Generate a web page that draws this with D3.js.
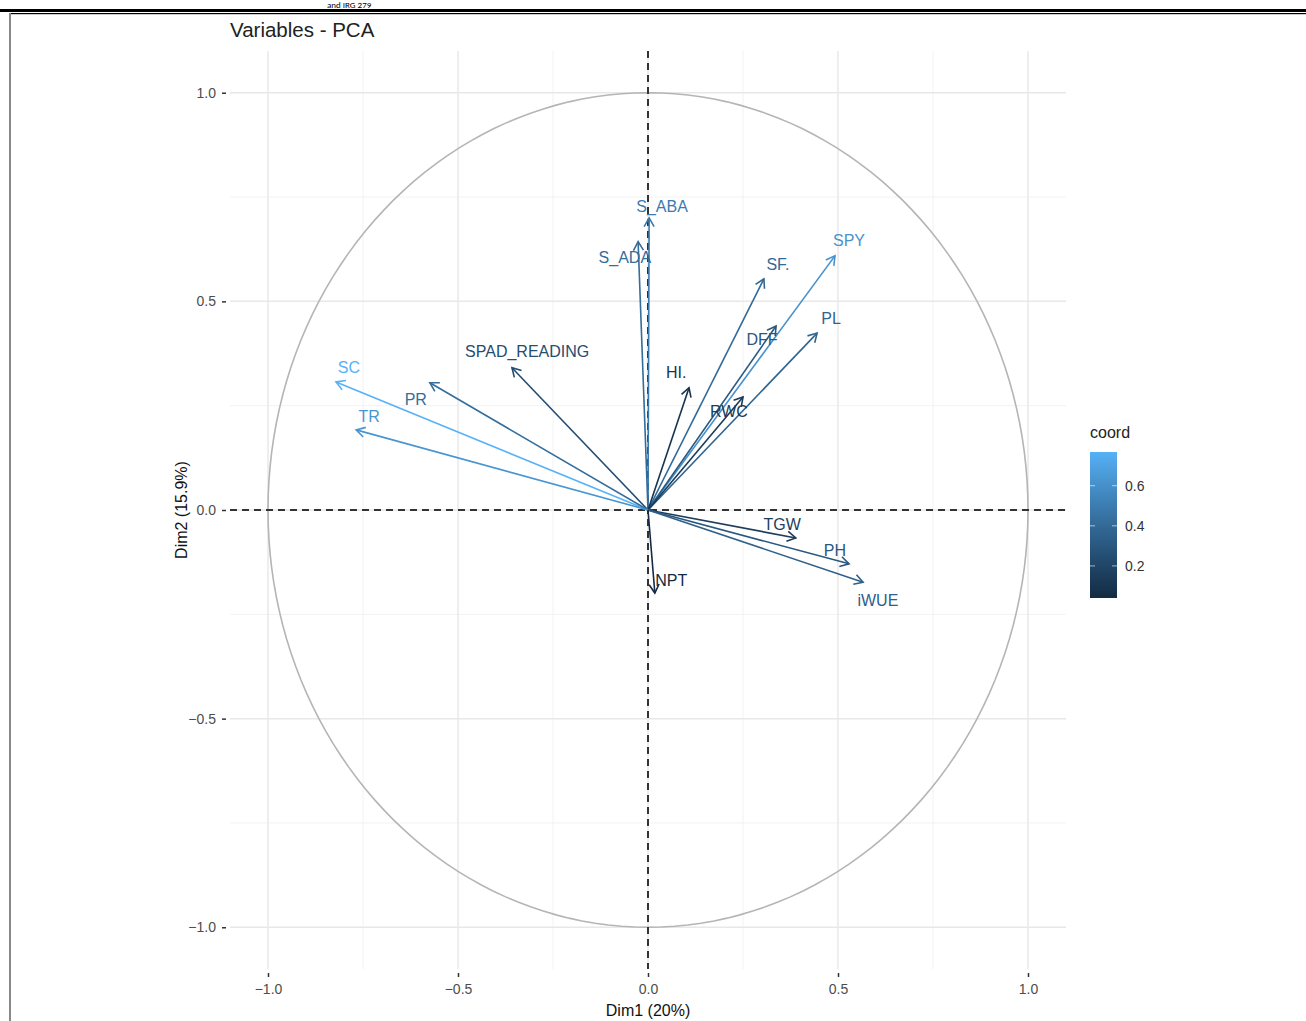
<!DOCTYPE html>
<html>
<head>
<meta charset="utf-8">
<script src="https://cdn.jsdelivr.net/npm/d3@7"></script>
<style>
html,body{margin:0;padding:0;background:#fff;}
svg text{font-family:"Liberation Sans",Arial,Helvetica,sans-serif;}
</style>
</head>
<body>
<svg id="chart" width="1306" height="1021"></svg>
<script>
// ---- data ----
const variables = ["S_ABA","S_ADA","SF.","SPY","PL","DFF","HI.","RWC","SPAD_READING","SC","PR","TR","TGW","PH","iWUE","NPT"];
const dim1 = [0.003,-0.026,0.305,0.492,0.445,0.337,0.108,0.250,-0.358,-0.821,-0.574,-0.768,0.389,0.529,0.566,0.018];
const dim2 = [0.700,0.643,0.554,0.609,0.424,0.441,0.293,0.271,0.341,0.307,0.305,0.192,-0.067,-0.129,-0.173,-0.199];
const labelDim1 = [0.037,-0.061,0.342,0.529,0.482,0.300,0.074,0.213,-0.318,-0.787,-0.611,-0.734,0.353,0.492,0.605,0.061];
const labelDim2 = [0.727,0.604,0.588,0.645,0.458,0.408,0.329,0.237,0.379,0.341,0.266,0.225,-0.034,-0.096,-0.216,-0.168];
const axisTicks = [-1.0,-0.5,0.0,0.5,1.0];
const minorTicks = [-0.75,-0.25,0.25,0.75];
const legendTicks = [0.2,0.4,0.6];
const titleText = "Variables - PCA";
const xTitle = "Dim1 (20%)";
const yTitle = "Dim2 (15.9%)";
const legendTitle = "coord";
const topCaption = "and IRG 279";

const svg = d3.select("#chart");

// page frame
svg.append("rect").attr("x",0).attr("y",9).attr("width",1306).attr("height",3).attr("fill","#000");
svg.append("rect").attr("x",9).attr("y",13).attr("width",1297).attr("height",1.2).attr("fill","#000");
svg.append("rect").attr("x",9).attr("y",13).attr("width",2).attr("height",1008).attr("fill","#888");
svg.append("text").attr("x",327).attr("y",7.5).attr("font-size",9).attr("fill","#000")
  .style("font-family","Carlito,'Liberation Sans',sans-serif").text(topCaption);

// scales
const x = d3.scaleLinear().domain([-1.1,1.1]).range([230,1066]);
const y = d3.scaleLinear().domain([-1.1,1.1]).range([969,51]);

const coords = dim1.map((d,i)=>d*d+dim2[i]*dim2[i]);
const cExt = d3.extent(coords);
const color = d3.scaleLinear().domain(cExt).range(["#132B43","#56B1F7"]).interpolate(d3.interpolateLab);

const g = svg.append("g");

// grid
minorTicks.forEach(t=>{
  g.append("line").attr("x1",x(t)).attr("x2",x(t)).attr("y1",y(1.1)).attr("y2",y(-1.1)).attr("stroke","#f2f2f2").attr("stroke-width",1);
  g.append("line").attr("y1",y(t)).attr("y2",y(t)).attr("x1",x(-1.1)).attr("x2",x(1.1)).attr("stroke","#f2f2f2").attr("stroke-width",1);
});
axisTicks.forEach(t=>{
  g.append("line").attr("x1",x(t)).attr("x2",x(t)).attr("y1",y(1.1)).attr("y2",y(-1.1)).attr("stroke","#e8e8e8").attr("stroke-width",1.5);
  g.append("line").attr("y1",y(t)).attr("y2",y(t)).attr("x1",x(-1.1)).attr("x2",x(1.1)).attr("stroke","#e8e8e8").attr("stroke-width",1.5);
});

// circle
const circ = d3.range(0,361,2).map(a=>[Math.cos(a*Math.PI/180),Math.sin(a*Math.PI/180)]);
g.append("path").attr("d",d3.line().x(d=>x(d[0])).y(d=>y(d[1]))(circ))
  .attr("fill","none").attr("stroke","#b5b5b5").attr("stroke-width",1.6);

// dashed axes
g.append("line").attr("x1",x(-1.1)).attr("x2",x(1.1)).attr("y1",y(0)).attr("y2",y(0))
  .attr("stroke","#333").attr("stroke-width",2).attr("stroke-dasharray","7,5");
g.append("line").attr("x1",x(0)).attr("x2",x(0)).attr("y1",y(1.1)).attr("y2",y(-1.1))
  .attr("stroke","#333").attr("stroke-width",2).attr("stroke-dasharray","7,5");

// arrows
variables.forEach((v,i)=>{
  const x0=x(0), y0=y(0), x1=x(dim1[i]), y1=y(dim2[i]);
  const ang=Math.atan2(y1-y0,x1-x0);
  const L=10, a=Math.PI/6;
  const c=color(coords[i]);
  g.append("line").attr("x1",x0).attr("y1",y0).attr("x2",x1).attr("y2",y1)
    .attr("stroke",c).attr("stroke-width",1.6);
  const p1=[x1-L*Math.cos(ang-a), y1-L*Math.sin(ang-a)];
  const p2=[x1-L*Math.cos(ang+a), y1-L*Math.sin(ang+a)];
  g.append("path").attr("d",`M${p1[0]},${p1[1]}L${x1},${y1}L${p2[0]},${p2[1]}`)
    .attr("fill","none").attr("stroke",c).attr("stroke-width",1.6);
});
variables.forEach((v,i)=>{
  g.append("text").attr("x",x(labelDim1[i])).attr("y",y(labelDim2[i]))
    .attr("text-anchor","middle").attr("dominant-baseline","central")
    .attr("font-size",16).attr("fill",color(coords[i])).text(v);
});

// axes
const xAxis = d3.axisBottom(x).tickValues(axisTicks).tickFormat(d3.format(".1f")).tickSize(4).tickPadding(7);
const yAxis = d3.axisLeft(y).tickValues(axisTicks).tickFormat(d3.format(".1f")).tickSize(4).tickPadding(6);
const gx = svg.append("g").attr("transform",`translate(0,${y(-1.1)+4})`).call(xAxis);
const gy = svg.append("g").attr("transform",`translate(${x(-1.1)-4},0)`).call(yAxis);
[gx,gy].forEach(a=>{
  a.select(".domain").remove();
  a.selectAll(".tick line").attr("stroke","#333").attr("stroke-width",1.5);
  a.selectAll(".tick text").attr("fill","#4d4d4d").attr("font-size",14)
   .style("font-family","'Liberation Sans',Arial,sans-serif").text(d=>d3.format(".1f")(d).replace("-","−"));
});

// titles
svg.append("text").attr("x",230).attr("y",37).attr("font-size",20.5).attr("fill","#222").text(titleText);
svg.append("text").attr("x",x(0)).attr("y",1016).attr("text-anchor","middle").attr("font-size",16).attr("fill","#111").text(xTitle);
svg.append("text").attr("transform",`translate(187,${y(0)}) rotate(-90)`).attr("text-anchor","middle").attr("font-size",16).attr("fill","#111").text(yTitle);

// legend
const lg = svg.append("g");
const barX=1090, barW=27;
const ly = d3.scaleLinear().domain(cExt).range([598,452]);
const defs = svg.append("defs");
const grad = defs.append("linearGradient").attr("id","cg").attr("x1",0).attr("y1",1).attr("x2",0).attr("y2",0);
d3.range(0,1.001,0.1).forEach(t=>{
  grad.append("stop").attr("offset",t).attr("stop-color",color(cExt[0]+t*(cExt[1]-cExt[0])));
});
lg.append("rect").attr("x",barX).attr("y",ly(cExt[1])).attr("width",barW).attr("height",ly(cExt[0])-ly(cExt[1])).attr("fill","url(#cg)");
legendTicks.forEach(t=>{
  lg.append("line").attr("x1",barX).attr("x2",barX+5).attr("y1",ly(t)).attr("y2",ly(t)).attr("stroke","#fff").attr("stroke-width",1).attr("opacity",0.6);
  lg.append("line").attr("x1",barX+barW-5).attr("x2",barX+barW).attr("y1",ly(t)).attr("y2",ly(t)).attr("stroke","#fff").attr("stroke-width",1).attr("opacity",0.6);
  lg.append("text").attr("x",barX+barW+8).attr("y",ly(t)).attr("dominant-baseline","central").attr("font-size",14).attr("fill","#333").text(d3.format(".1f")(t));
});
lg.append("text").attr("x",barX).attr("y",438).attr("font-size",16).attr("fill","#222").text(legendTitle);
</script>
</body>
</html>
